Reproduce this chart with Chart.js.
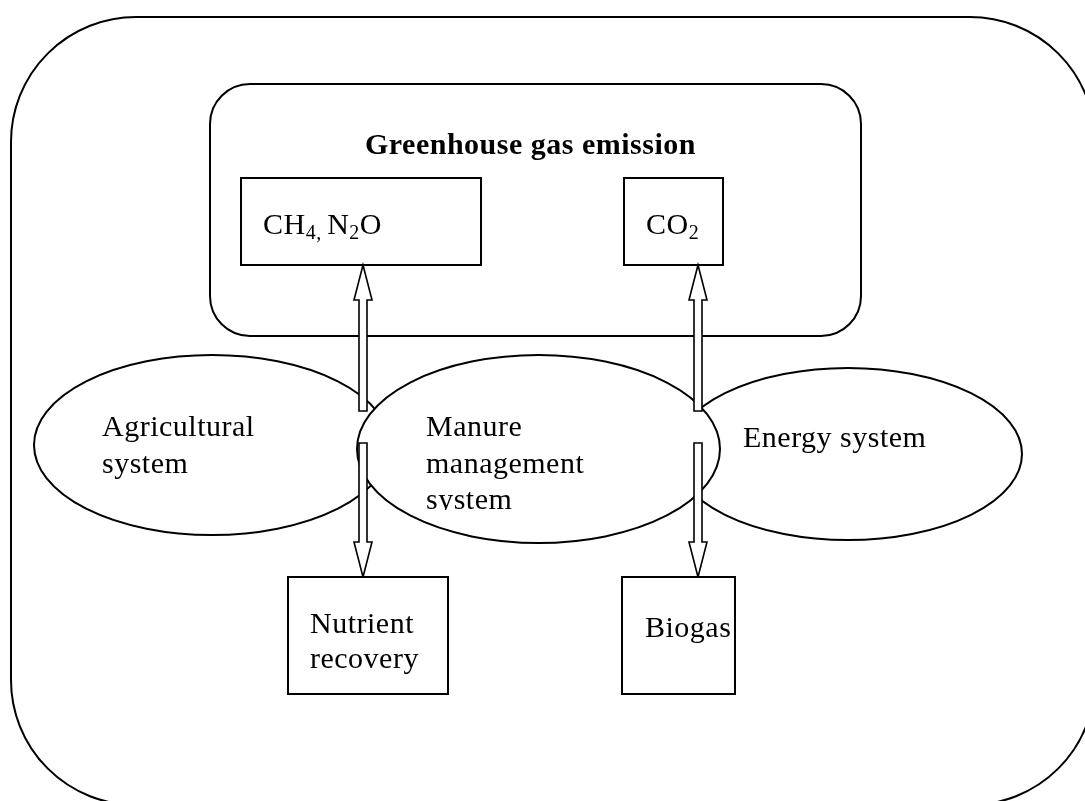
<!DOCTYPE html>
<html><head><meta charset="utf-8">
<script src="https://cdn.jsdelivr.net/npm/chart.js@4/dist/chart.umd.min.js"></script>
<style>html,body{margin:0;padding:0;background:#fff;overflow:hidden}</style>
</head><body>
<canvas id="c" width="1085" height="801"></canvas>
<script>
// ---- diagram content (data units = scale units) ----
const frameX0 = [11, 210];
const frameY0 = [17, 84];
const frameX1 = [1095, 861];
const frameY1 = [805, 336];
const frameR  = [125, 40];
const frameTitle = ["", "Greenhouse gas emission"];

const gasNames = [
  [["CH",0],["4, ",1],["N",0],["2",1],["O",0]],
  [["CO",0],["2",1]]
];
const gasX0 = [241, 624], gasX1 = [481, 723], gasY0 = [178, 178], gasY1 = [265, 265];
const gasTextX = [263, 646], gasTextY = [234, 234];

const systemNames = [["Agricultural","system"], ["Energy system"], ["Manure","management","system"]];
const systemCx = [212, 848, 538.5], systemCy = [445, 454, 449];
const systemRx = [178, 174, 181.5], systemRy = [90, 86, 94];
const systemTextX = [102, 743, 426], systemTextY = [436, 447, 436];

const outputNames = [["Nutrient","recovery"], ["Biogas"]];
const outX0 = [288, 622], outX1 = [448, 735], outY0 = [577, 577], outY1 = [694, 694];
const outTextX = [310, 645], outTextY = [633, 637];

const arrowX = [363, 698, 363, 698];
const arrowFrom = [411, 411, 443, 443];
const arrowTo = [265, 265, 577, 577];

const FONT = '"Liberation Serif", "Times New Roman", serif';

const diagram = {
  id: 'diagram',
  afterDatasetsDraw(chart) {
    const ctx = chart.ctx, sx = chart.scales.x, sy = chart.scales.y;
    const X = v => sx.getPixelForValue(v), Y = v => sy.getPixelForValue(v);
    const DX = d => Math.abs(X(d) - X(0)), DY = d => Math.abs(Y(d) - Y(0));
    ctx.save();
    ctx.strokeStyle = '#000'; ctx.fillStyle = '#000';
    ctx.lineJoin = 'miter';
    function rrect(x0,y0,x1,y1,r){
      const a=X(x0),b=Y(y0),c=X(x1),d=Y(y1),rr=DX(r);
      ctx.beginPath();
      ctx.moveTo(a+rr,b); ctx.lineTo(c-rr,b); ctx.arcTo(c,b,c,b+rr,rr);
      ctx.lineTo(c,d-rr); ctx.arcTo(c,d,c-rr,d,rr); ctx.lineTo(a+rr,d);
      ctx.arcTo(a,d,a,d-rr,rr); ctx.lineTo(a,b+rr); ctx.arcTo(a,b,a+rr,b,rr); ctx.closePath();
    }
    function box(x0,y0,x1,y1){
      ctx.beginPath(); ctx.rect(X(x0),Y(y0),X(x1)-X(x0),Y(y1)-Y(y0));
      ctx.fillStyle='#fff'; ctx.fill(); ctx.lineWidth=2; ctx.stroke();
    }
    function lines(arr,x,y,lh,clipY){
      ctx.fillStyle='#000';
      arr.forEach((s,i)=>{
        if (clipY!==undefined && i===arr.length-1){
          ctx.save(); ctx.beginPath(); ctx.rect(0,0,2000,Y(clipY)); ctx.clip();
          ctx.fillText(s,X(x),Y(y+i*lh)); ctx.restore();
        } else ctx.fillText(s,X(x),Y(y+i*lh));
      });
    }
    // frames
    ctx.lineWidth = 2;
    for (let i=0;i<frameX0.length;i++){
      rrect(frameX0[i],frameY0[i],frameX1[i],frameY1[i],frameR[i]);
      ctx.stroke();
    }
    ctx.font = 'bold 30px ' + FONT; ctx.textBaseline='alphabetic'; ctx.textAlign='left';
    ctx.letterSpacing = '0.5px';
    ctx.fillText(frameTitle[1], X(365), Y(154));
    // gas boxes
    for (let i=0;i<gasNames.length;i++){
      box(gasX0[i],gasY0[i],gasX1[i],gasY1[i]);
      let px = X(gasTextX[i]); const py = Y(gasTextY[i]);
      ctx.fillStyle='#000';
      gasNames[i].forEach(([t,sub])=>{
        ctx.font = (sub? '20px ':'30px ') + FONT;
        ctx.fillText(t, px, py + (sub? 5:0));
        px += ctx.measureText(t).width;
      });
    }
    // systems
    const order = [0,1,2];
    order.forEach(i=>{
      ctx.beginPath();
      ctx.ellipse(X(systemCx[i]),Y(systemCy[i]),DX(systemRx[i]),DY(systemRy[i]),0,0,Math.PI*2);
      ctx.fillStyle='#fff'; ctx.fill(); ctx.lineWidth=2; ctx.stroke();
    });
    // arrows
    for (let i=0;i<arrowX.length;i++){
      const cx=X(arrowX[i]), y0=Y(arrowFrom[i]), y1=Y(arrowTo[i]);
      const dir = y1<y0 ? -1 : 1;
      const hw=4, hh=9, hl=35;
      const yb = y1 - dir*hl;
      ctx.beginPath();
      ctx.moveTo(cx-hw,y0); ctx.lineTo(cx-hw,yb); ctx.lineTo(cx-hh,yb); ctx.lineTo(cx,y1);
      ctx.lineTo(cx+hh,yb); ctx.lineTo(cx+hw,yb); ctx.lineTo(cx+hw,y0); ctx.closePath();
      ctx.fillStyle='#fff'; ctx.fill(); ctx.lineWidth=1.6; ctx.stroke();
    }
    // outputs
    for (let i=0;i<outputNames.length;i++) box(outX0[i],outY0[i],outX1[i],outY1[i]);
    // labels
    ctx.font = '30px ' + FONT;
    for (let i=0;i<systemNames.length;i++)
      lines(systemNames[i], systemTextX[i], systemTextY[i], 36.5, i===2 ? 510 : undefined);
    for (let i=0;i<outputNames.length;i++)
      lines(outputNames[i], outTextX[i], outTextY[i], 35);
    ctx.restore();
  }
};

new Chart(document.getElementById('c'), {
  type: 'scatter',
  data: { datasets: [{ data: systemCx.map((x,i)=>({x, y: systemCy[i]})), pointRadius: 0 }] },
  options: {
    responsive: false, animation: false, devicePixelRatio: 1,
    layout: { padding: 0 },
    plugins: { legend: { display: false }, tooltip: { enabled: false } },
    scales: {
      x: { type: 'linear', min: 0, max: 1085, display: false },
      y: { type: 'linear', min: 0, max: 801, reverse: true, display: false }
    }
  },
  plugins: [diagram]
});
</script>
</body></html>
